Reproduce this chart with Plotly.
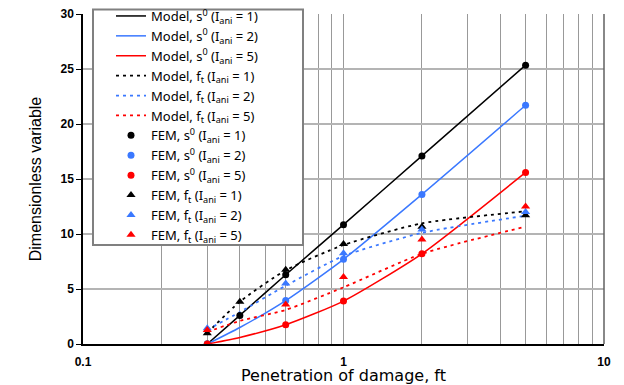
import plotly.graph_objects as go

# Penetration of damage (ft)
x_fem1 = [0.3, 0.4, 0.6, 1, 2, 5]
x_fem = [0.3, 0.6, 1, 2, 5]
x_model = [0.3, 0.4, 0.6, 1, 2, 5]

# Model curves
model_s0_1 = [0, 2.6, 6.3, 10.85, 17.1, 25.35]
model_s0_2 = [0, 1.5, 3.95, 7.7, 13.6, 21.7]
model_s0_5 = [0, 0.6, 1.75, 3.9, 8.2, 15.6]
model_ft_1 = [1.0, 3.85, 6.7, 9.0, 10.97, 12.06]
model_ft_2 = [1.3, 2.9, 5.3, 8.0, 10.1, 11.66]
model_ft_5 = [1.1, 2.1, 3.1, 5.15, 8.2, 10.67]

# FEM results
fem_s0_1 = [0, 2.6, 6.3, 10.85, 17.1, 25.35]
fem_s0_2 = [0, 3.95, 7.7, 13.6, 21.7]
fem_s0_5 = [0, 1.75, 3.9, 8.2, 15.6]
fem_ft_1 = [0.97, 3.85, 6.75, 9.1, 10.65, 11.7]
fem_ft_2 = [1.43, 5.5, 8.25, 10.4, 12.0]
fem_ft_5 = [1.27, 3.6, 6.1, 9.5, 12.5]

BLACK = "#000000"
BLUE = "#3a78ff"
RED = "#ff0000"

def lbl(kind, var, i):
    if var == "s":
        v = "s<sup>0</sup>"
    else:
        v = "f<sub>t</sub>"
    return f"{kind}, {v} (I<sub>ani</sub> = {i})"

fig = go.Figure()
for y, c, i in [(model_s0_1, BLACK, 1), (model_s0_2, BLUE, 2), (model_s0_5, RED, 5)]:
    fig.add_trace(go.Scatter(x=x_model, y=y, mode="lines", line=dict(color=c, width=1.5, shape="spline", smoothing=0.6),
                             name=lbl("Model", "s", i)))
for y, c, i in [(model_ft_1, BLACK, 1), (model_ft_2, BLUE, 2), (model_ft_5, RED, 5)]:
    fig.add_trace(go.Scatter(x=x_model, y=y, mode="lines", line=dict(color=c, width=1.8, dash="3px,4px", shape="spline", smoothing=0.6),
                             name=lbl("Model", "f", i)))
for xx, y, c, i in [(x_fem1, fem_s0_1, BLACK, 1), (x_fem, fem_s0_2, BLUE, 2), (x_fem, fem_s0_5, RED, 5)]:
    fig.add_trace(go.Scatter(x=xx, y=y, mode="markers", marker=dict(color=c, size=7, symbol="circle"),
                             name=lbl("FEM", "s", i)))
for xx, y, c, i in [(x_fem1, fem_ft_1, BLACK, 1), (x_fem, fem_ft_2, BLUE, 2), (x_fem, fem_ft_5, RED, 5)]:
    fig.add_trace(go.Scatter(x=xx, y=y, mode="markers", marker=dict(color=c, size=8, symbol="triangle-up"),
                             name=lbl("FEM", "f", i)))

xt = [0.1, 0.2, 0.3, 0.4, 0.5, 0.6, 0.7, 0.8, 0.9, 1, 2, 3, 4, 5, 6, 7, 8, 9, 10]
xtext = ["<b>0.1</b>" if v == 0.1 else "<b>1</b>" if v == 1 else "<b>10</b>" if v == 10 else "" for v in xt]
yt = [0, 5, 10, 15, 20, 25, 30]

# page body has an 8px margin; figure sized to fit the 624x385 window
OFF = 8
W, H = 624 - OFF, 385 - OFF
PW, PH, ML, MT = 521, 330, 83, 14

def px(xpix):
    return (xpix - ML) / PW

def py(ypix):
    return 1 - (ypix - MT) / PH

fig.update_layout(
    width=W, height=H,
    margin=dict(l=ML - OFF, r=W - (ML - OFF) - PW, t=MT - OFF, b=H - (MT - OFF) - PH, autoexpand=False),
    paper_bgcolor="white", plot_bgcolor="white",
    font=dict(family="Liberation Sans, Arial", color="black"),
    showlegend=True,
    legend=dict(x=px(111), y=py(1), xanchor="left", yanchor="top",
                bgcolor="rgba(0,0,0,0)", borderwidth=0,
                font=dict(family="Noto Sans", size=13, color="black"),
                tracegroupgap=0, itemwidth=30, maxheight=1.0),
    xaxis=dict(type="log", range=[-1, 1], tickmode="array", tickvals=xt, ticktext=xtext,
               showgrid=True, gridcolor="#999999", gridwidth=1,
               showline=True, linecolor="black", linewidth=1.5,
               ticks="", ticklabelstandoff=6, ticklabeloverflow="allow",
               tickfont=dict(size=12, family="Liberation Sans, Arial"),
               title=dict(text="Penetration of damage, ft", font=dict(size=16, family="DejaVu Sans"), standoff=4),
               zeroline=False),
    yaxis=dict(range=[0, 30], tickmode="array", tickvals=yt, ticktext=[f"<b>{v}</b>" for v in yt],
               showgrid=True, gridcolor="#b4b4b4", gridwidth=2,
               showline=True, linecolor="black", linewidth=1.5,
               ticks="outside", ticklen=5, tickcolor="black", ticklabeloverflow="allow",
               tickfont=dict(size=12, family="Liberation Sans, Arial"),
               title=dict(text="Dimensionless variable", font=dict(size=16, family="Liberation Sans, Arial"), standoff=15),
               zeroline=False),
)
fig.add_shape(type="line", xref="paper", yref="paper", x0=1, x1=1, y0=0, y1=1,
              line=dict(color="#606060", width=1.5))
# legend frame
fig.add_shape(type="rect", xref="paper", yref="paper", layer="above",
              x0=px(93), x1=px(303), y0=py(245), y1=py(9.5),
              fillcolor="white", line=dict(color="#808080", width=2))

fig.write_html("out.html")
